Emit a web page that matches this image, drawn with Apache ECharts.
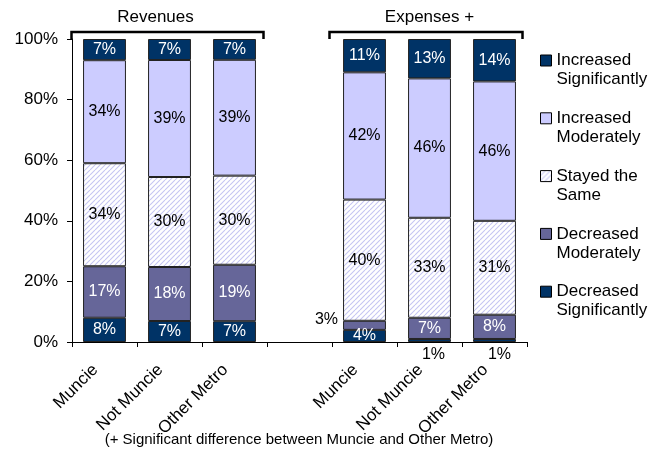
<!DOCTYPE html>
<html>
<head>
<meta charset="utf-8">
<script src="https://cdn.jsdelivr.net/npm/echarts@6/dist/echarts.min.js"></script>
<style>html,body{margin:0;padding:0;background:#fff}#c{width:668px;height:451px}</style>
</head>
<body>
<div id="c"></div>
<script>
const categories = ['Muncie', 'Not Muncie', 'Other Metro', '', 'Muncie', 'Not Muncie', 'Other Metro'];
const yTicks = [0, 20, 40, 60, 80, 100];
const decreasedSignificantly = [8, 7, 7, null, 4, 1, 1];
const decreasedModerately = [17, 18, 19, null, 3, 7, 8];
const stayedSame = [34, 30, 30, null, 40, 33, 31];
const increasedModerately = [34, 39, 39, null, 42, 46, 46];
const increasedSignificantly = [7, 7, 7, null, 11, 13, 14];
const groupTitles = ['Revenues', 'Expenses +'];
const footnote = '(+ Significant difference between Muncie and Other Metro)';

const FONT = '"Liberation Sans", Arial, sans-serif';
const totals = categories.map((c, i) =>
  [decreasedSignificantly, decreasedModerately, stayedSame, increasedModerately, increasedSignificantly]
    .reduce((s, a) => s + (a[i] || 0), 0));

function build(arr, overrides) {
  return arr.map((v, i) => {
    if (v == null) return null;
    const item = { value: v / totals[i] * 100, raw: v };
    if (overrides && overrides[i]) item.label = overrides[i];
    return item;
  });
}

// hatch pattern "/" lavender on white
const hatch = document.createElement('canvas');
hatch.width = 5; hatch.height = 5;
(function () {
  const ctx = hatch.getContext('2d');
  ctx.fillStyle = '#ffffff'; ctx.fillRect(0, 0, 5, 5);
  ctx.strokeStyle = '#c6c6f2'; ctx.lineWidth = 1.1;
  ctx.beginPath();
  for (let k = -5; k <= 10; k += 5) { ctx.moveTo(k, 5); ctx.lineTo(k + 5, 0); }
  ctx.stroke();
})();

const seriesDefs = [
  { name: 'Decreased\nSignificantly', data: decreasedSignificantly, color: '#003366', text: '#fff',
    over: { 5: { position: 'bottom', offset: [4, 0], color: '#000' }, 6: { position: 'bottom', offset: [5, 0], color: '#000' } } },
  { name: 'Decreased\nModerately', data: decreasedModerately, color: '#666699', text: '#fff',
    over: { 4: { position: 'left', offset: [0, -6], color: '#000' } } },
  { name: 'Stayed the\nSame', data: stayedSame, color: { image: hatch, repeat: 'repeat' }, text: '#000' },
  { name: 'Increased\nModerately', data: increasedModerately, color: '#ccccff', text: '#000' },
  { name: 'Increased\nSignificantly', data: increasedSignificantly, color: '#003366', text: '#fff' }
];

const chart = echarts.init(document.getElementById('c'));
chart.setOption({
  animation: false,
  textStyle: { fontFamily: FONT },
  grid: { left: 72, right: 141, top: 39, bottom: 109 },
  legend: {
    orient: 'vertical', left: 540, top: 32, padding: 0, icon: 'rect',
    itemWidth: 11, itemHeight: 11, itemGap: 0.8,
    data: seriesDefs.map(s => s.name).reverse(),
    formatter: n => '\n' + n,
    itemStyle: { borderColor: '#000', borderWidth: 1 },
    textStyle: { fontFamily: FONT, fontSize: 17, color: '#000', lineHeight: 19 }
  },
  xAxis: {
    type: 'category', data: categories,
    axisLine: { lineStyle: { color: '#000', width: 1 } },
    axisTick: { show: true, length: 5, lineStyle: { color: '#000' } },
    axisLabel: { interval: 0, rotate: 45, fontSize: 17, color: '#000', fontFamily: FONT, margin: 16, padding: [0, 13, 0, 0] }
  },
  yAxis: {
    type: 'value', min: 0, max: 100, interval: 20,
    axisLine: { show: true, lineStyle: { color: '#000', width: 1 } },
    axisTick: { show: true, length: 5, lineStyle: { color: '#000' } },
    splitLine: { show: false },
    axisLabel: { fontSize: 17, color: '#000', fontFamily: FONT, margin: 14,
      formatter: v => yTicks.includes(v) ? v + '%' : '' }
  },
  series: seriesDefs.map(s => ({
    name: s.name, type: 'bar', stack: 'total', barCategoryGap: '34%',
    data: build(s.data, s.over),
    itemStyle: { color: s.color, borderColor: '#222', borderWidth: 1 },
    label: { show: true, position: 'inside', color: s.text, fontSize: 16, fontFamily: FONT,
      formatter: p => p.data.raw + '%' }
  }))
});

function px(i) { return chart.convertToPixel({ xAxisIndex: 0 }, i); }
const topY = chart.convertToPixel({ yAxisIndex: 0 }, 100);
const barY = topY - 7;
function bracket(x1, x2) {
  return {
    type: 'polyline', shape: { points: [[x1, topY], [x1, barY], [x2, barY], [x2, topY]] },
    style: { stroke: '#000', lineWidth: 2.5, fill: null }
  };
}
const b1 = [px(0) - 33, px(2) + 29];
const b2 = [px(4) - 35, px(6) + 28];
chart.setOption({
  graphic: [
    bracket(b1[0], b1[1]),
    bracket(b2[0], b2[1]),
    { type: 'text', x: px(1) - 14, y: 17, style: { text: groupTitles[0], font: '17px ' + FONT, fill: '#000', align: 'center', verticalAlign: 'middle' } },
    { type: 'text', x: px(5), y: 17, style: { text: groupTitles[1], font: '17px ' + FONT, fill: '#000', align: 'center', verticalAlign: 'middle' } },
    { type: 'text', x: 299, y: 440, style: { text: footnote, font: '15px ' + FONT, fill: '#000', align: 'center', verticalAlign: 'middle' } }
  ]
});
</script>
</body>
</html>
